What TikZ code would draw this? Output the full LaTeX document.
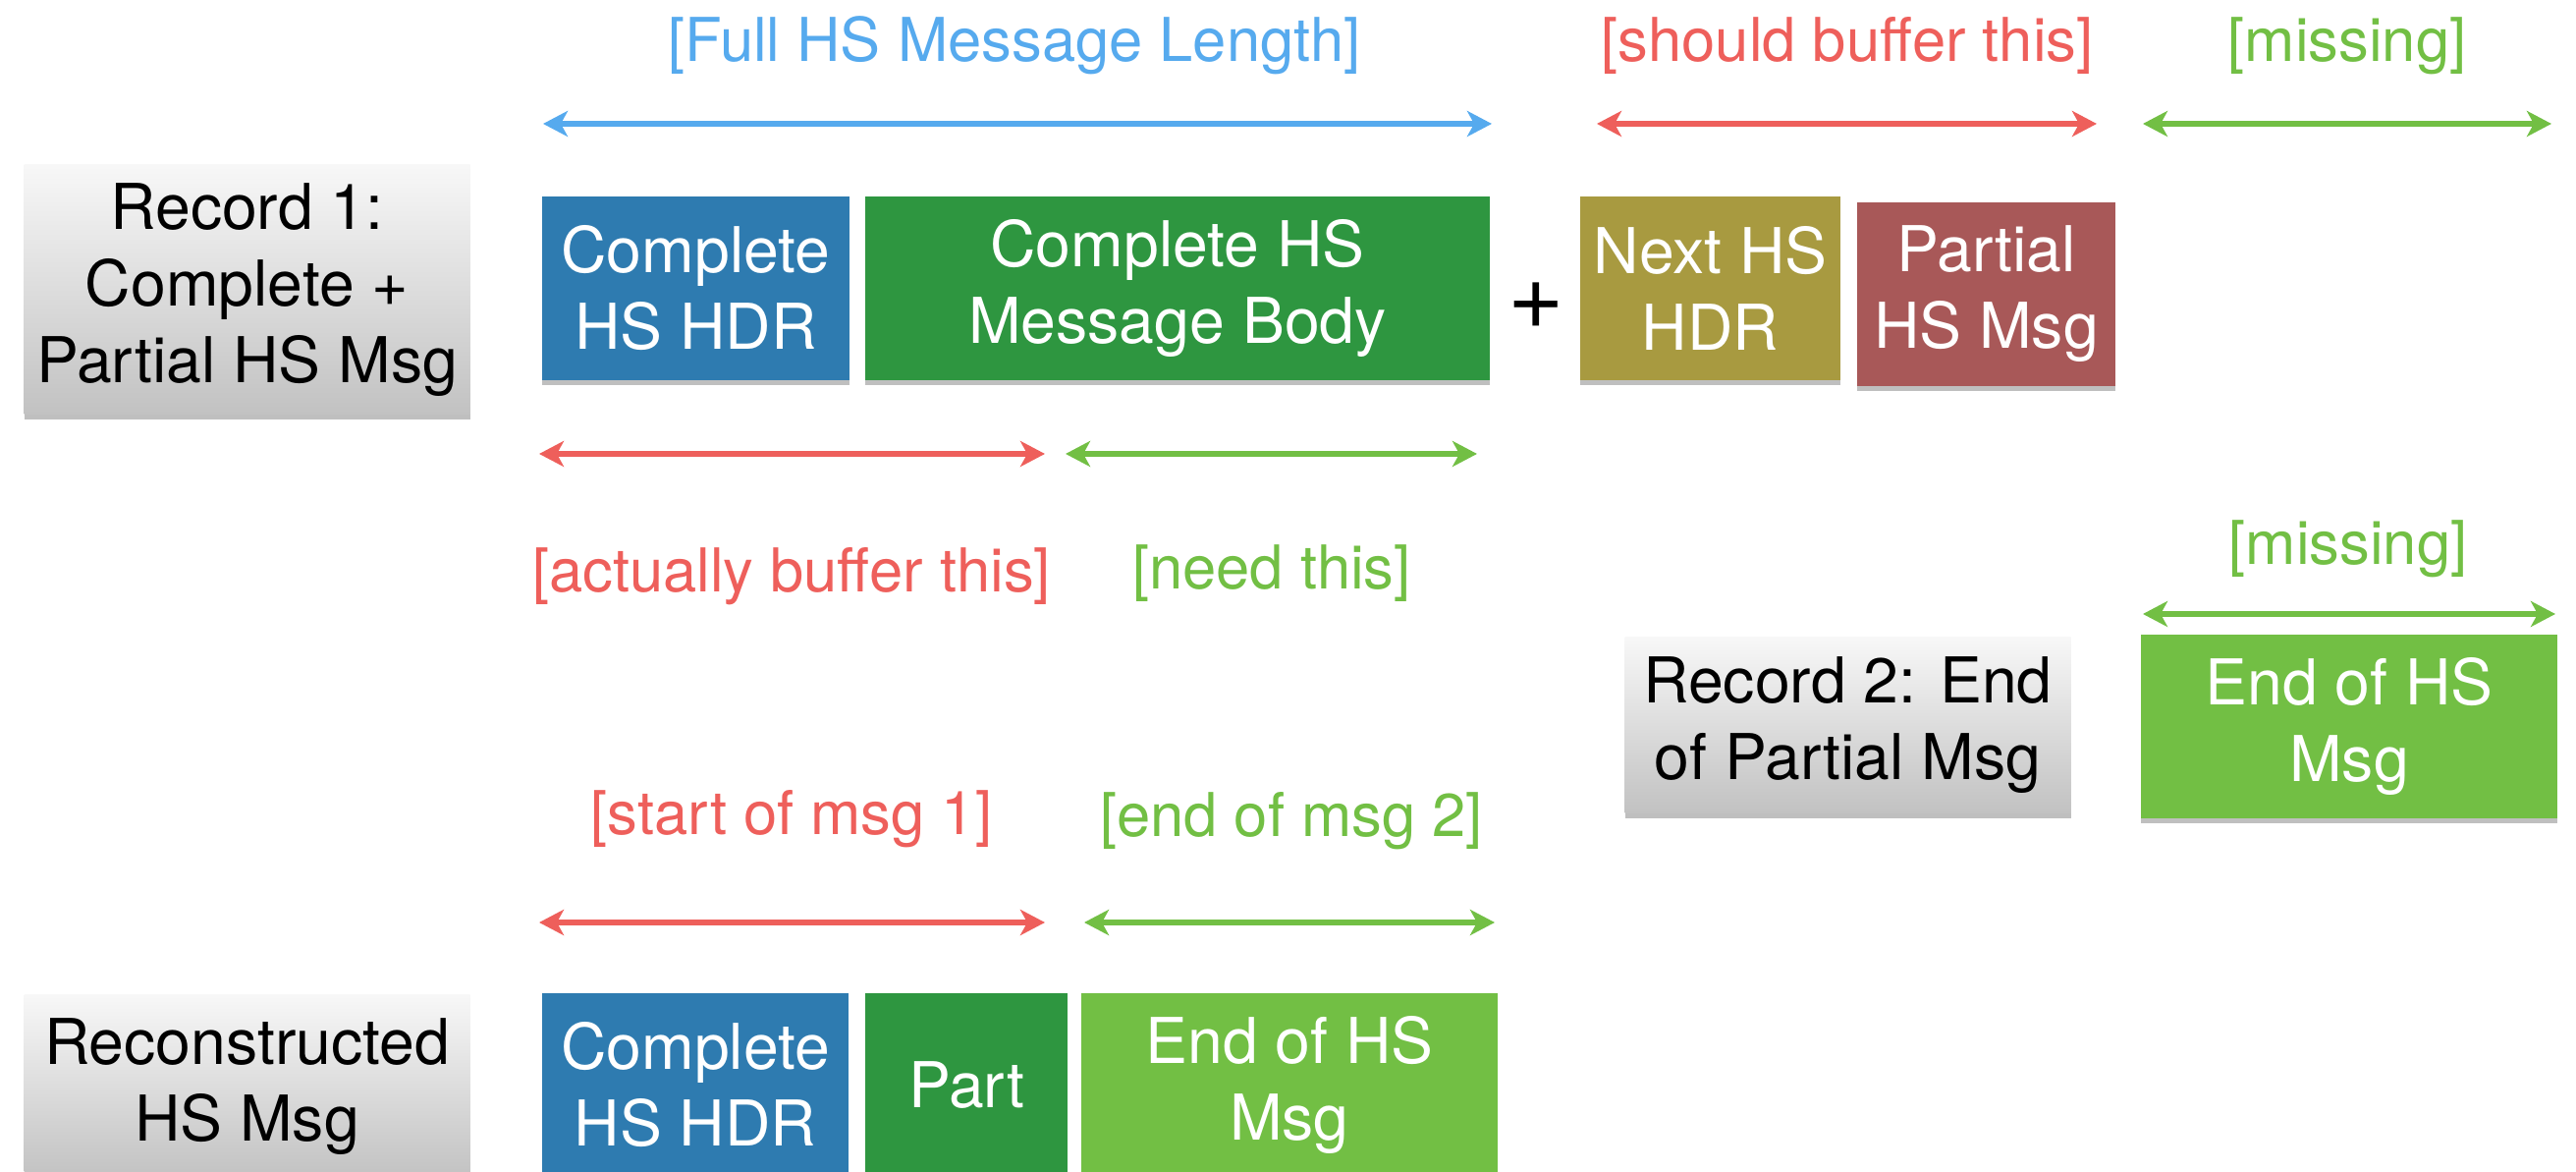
\documentclass[tikz,border=0pt]{standalone}
\usepackage{fontspec}
\setmainfont{TeX Gyre Heros}
\usetikzlibrary{arrows.meta,shadows}

\definecolor{hdrblue}{RGB}{46,123,176}
\definecolor{bodygreen}{RGB}{46,150,64}
\definecolor{nextolive}{RGB}{168,154,64}
\definecolor{partred}{RGB}{168,88,88}
\definecolor{endgreen}{RGB}{114,191,68}
\definecolor{lenblue}{RGB}{86,170,238}
\definecolor{bufred}{RGB}{238,95,91}

\begin{document}
\begin{tikzpicture}[
		every node/.style={font=\fontsize{17.5}{21.9}\selectfont, align=center, inner sep=0},
		boxshadow/.style={drop shadow={shadow xshift=0pt, shadow yshift=-0.05cm, opacity=0.25, fill=black}},
		boxtext/.style={font=\fontsize{18.3}{22.2}\selectfont},
		record/.style={boxshadow, boxtext, top color=white!97!black, bottom color=white!76!black, minimum width=4.54cm},
		chunk/.style={boxshadow, boxtext, text=white, minimum height=1.87cm},
		lbl/.style={anchor=base},
		lenarrow/.style={{Stealth[length=0.25cm,width=0.26cm,inset=0.07cm]}-{Stealth[length=0.25cm,width=0.26cm,inset=0.07cm]}, line width=1.7pt},
	]
	\useasboundingbox (0,0) rectangle (26.23,-11.93);

	% record 1
	\node[record, minimum height=2.54cm] (rec1) at (2.515,-2.95) {Record 1:\\Complete +\\Partial HS Msg};
	\node[chunk, fill=hdrblue, minimum width=3.13cm] (hdr1) at (7.085,-2.935) {Complete\\HS HDR};
	\node[chunk, fill=bodygreen, minimum width=6.36cm] (body1) at (11.99,-2.935) {Complete HS\\Message Body};
	\node[font=\fontsize{28}{30}\selectfont] (plus) at (15.64,-3.11) {+};
	\node[chunk, fill=nextolive, minimum width=2.65cm] (next1) at (17.415,-2.935) {Next HS\\HDR};
	\node[chunk, fill=partred, minimum width=2.63cm] (part1) at (20.225,-2.995) {Partial\\HS Msg};

	% record 2
	\node[record, minimum height=1.79cm] (rec2) at (18.815,-7.385) {Record 2: End\\of Partial Msg};
	\node[chunk, fill=endgreen, minimum width=4.24cm] (end2) at (23.92,-7.395) {End of HS\\Msg};

	% reconstructed message
	\node[record, minimum height=1.86cm] (rec3) at (2.515,-11.06) {Reconstructed\\HS Msg};
	\node[chunk, fill=hdrblue, minimum width=3.12cm] (hdr3) at (7.08,-11.045) {Complete\\HS HDR};
	\node[chunk, fill=bodygreen, minimum width=2.06cm] (part3) at (9.84,-11.045) {Part};
	\node[chunk, fill=endgreen, minimum width=4.24cm] (end3) at (13.13,-11.045) {End of HS\\Msg};

	% arrow ends
	\coordinate (fullL) at (5.53,-1.26);
	\coordinate (fullR) at (15.19,-1.26);
	\coordinate (shouldL) at (16.26,-1.26);
	\coordinate (shouldR) at (21.35,-1.26);
	\coordinate (missAL) at (21.82,-1.26);
	\coordinate (missAR) at (25.98,-1.26);
	\coordinate (actualL) at (5.49,-4.62);
	\coordinate (actualR) at (10.64,-4.62);
	\coordinate (needL) at (10.85,-4.62);
	\coordinate (needR) at (15.04,-4.62);
	\coordinate (missBL) at (21.82,-6.25);
	\coordinate (missBR) at (26.02,-6.25);
	\coordinate (startL) at (5.49,-9.39);
	\coordinate (startR) at (10.64,-9.39);
	\coordinate (endL) at (11.04,-9.39);
	\coordinate (endR) at (15.22,-9.39);

	\draw[lenarrow, lenblue] (fullL) -- (fullR);
	\draw[lenarrow, bufred] (shouldL) -- (shouldR);
	\draw[lenarrow, endgreen] (missAL) -- (missAR);
	\draw[lenarrow, bufred] (actualL) -- (actualR);
	\draw[lenarrow, endgreen] (needL) -- (needR);
	\draw[lenarrow, endgreen] (missBL) -- (missBR);
	\draw[lenarrow, bufred] (startL) -- (startR);
	\draw[lenarrow, endgreen] (endL) -- (endR);

	% labels
	\node[lbl, text=lenblue] (lblFull) at (10.33,-0.63) {[Full HS Message Length]};
	\node[lbl, text=bufred] (lblShould) at (18.81,-0.63) {[should buffer this]};
	\node[lbl, text=endgreen] (lblMissA) at (23.90,-0.63) {[missing]};
	\node[lbl, text=bufred] (lblActual) at (8.06,-6.03) {[actually buffer this]};
	\node[lbl, text=endgreen] (lblNeed) at (12.95,-6.0) {[need this]};
	\node[lbl, text=endgreen] (lblMissB) at (23.91,-5.75) {[missing]};
	\node[lbl, text=bufred] (lblStart) at (8.06,-8.50) {[start of msg 1]};
	\node[lbl, text=endgreen] (lblEnd) at (13.15,-8.52) {[end of msg 2]};
\end{tikzpicture}
\end{document}
